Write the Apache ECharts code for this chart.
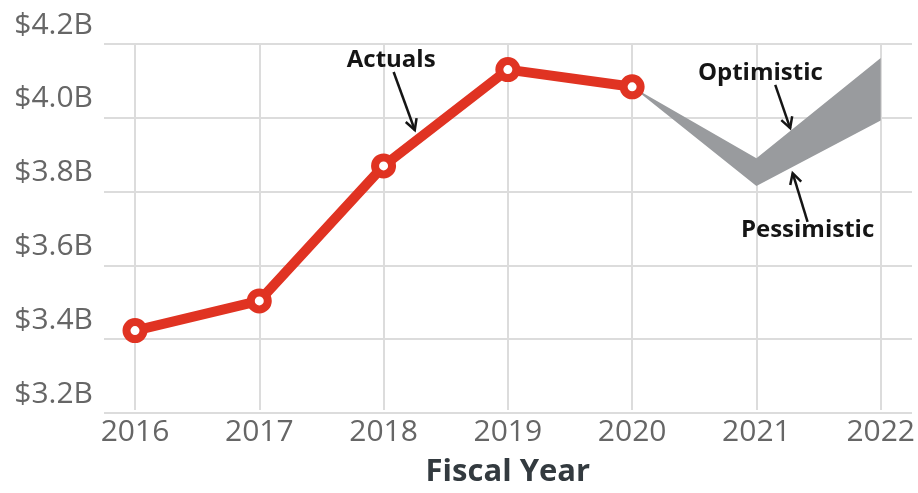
<!DOCTYPE html>
<html>
<head>
<meta charset="utf-8">
<script src="https://cdn.jsdelivr.net/npm/echarts@6/dist/echarts.min.js"></script>
<style>
  html, body { margin: 0; padding: 0; background: #fff; }
  #chart { width: 918px; height: 493px; }
</style>
</head>
<body>
<div id="chart"></div>
<script>
// data (billions of dollars)
var years = ['2016', '2017', '2018', '2019', '2020', '2021', '2022'];
var actuals = [3.417, 3.498, 3.867, 4.13, 4.083, null, null];
var optimistic = [null, null, null, null, 4.083, 3.888, 4.162];
var pessimistic = [null, null, null, null, 4.083, 3.812, 3.991];
var yMin = 3.2, yMax = 4.2, yStep = 0.2;

// annotation anchors in data space (year, value)
var notes = [
  { text: 'Actuals', at: [2018.06, 4.157], from: [2018.08, 4.124], to: [2018.25, 3.967] },
  { text: 'Optimistic', at: [2021.03, 4.121], from: [2021.15, 4.089], to: [2021.27, 3.972] },
  { text: 'Pessimistic', at: [2021.41, 3.696], from: [2021.41, 3.718], to: [2021.29, 3.850] }
];

var FONT = '"Open Sans", "Noto Sans", sans-serif';
var RED = '#e03322';
var GRIDC = '#dcdcdc';

// stacked band: pessimistic base + (optimistic - pessimistic)
var bandWidth = optimistic.map(function (v, i) {
  return v == null ? null : +(v - pessimistic[i]).toFixed(3);
});

var chart = echarts.init(document.getElementById('chart'));
chart.setOption({
  animation: false,
  grid: [
    { left: 104, right: 6, top: 44, bottom: 80 },  // wide grid: horizontal lines + y labels
    { left: 135, right: 37, top: 44, bottom: 80 }  // data grid
  ],
  xAxis: [
    { gridIndex: 0, type: 'value', min: 2015.75, max: 2022.25, show: false },
    {
      gridIndex: 1,
      type: 'category',
      data: years,
      boundaryGap: false,
      axisLine: { show: false },
      axisTick: { show: false },
      axisLabel: { color: '#666', fontSize: 30, fontFamily: FONT, margin: 7 },
      splitLine: { show: true, lineStyle: { color: GRIDC, width: 2 } },
      name: 'Fiscal Year',
      nameLocation: 'middle',
      nameGap: 47,
      nameTextStyle: { color: '#333a3f', fontSize: 31, fontWeight: 'bold', fontFamily: FONT }
    }
  ],
  yAxis: [
    {
      gridIndex: 0,
      type: 'value',
      min: yMin, max: yMax, interval: yStep,
      axisLine: { show: false },
      axisTick: { show: false },
      splitLine: { lineStyle: { color: GRIDC, width: 2 } },
      axisLabel: {
        color: '#666', fontSize: 30, fontFamily: FONT, margin: 11,
        verticalAlign: 'bottom', padding: [0, 0, 4, 0],
        formatter: function (v) { return '$' + v.toFixed(1) + 'B'; }
      }
    },
    { gridIndex: 1, type: 'value', min: yMin, max: yMax, show: false }
  ],
  series: [
    {
      name: 'Pessimistic', type: 'line', xAxisIndex: 1, yAxisIndex: 1,
      data: pessimistic, stack: 'band', symbol: 'none', silent: true,
      lineStyle: { width: 0 }
    },
    {
      name: 'Optimistic', type: 'line', xAxisIndex: 1, yAxisIndex: 1,
      data: bandWidth, stack: 'band', symbol: 'none', silent: true,
      lineStyle: { width: 0 },
      areaStyle: { color: '#999b9e', opacity: 1 }
    },
    {
      name: 'Actuals', type: 'line', xAxisIndex: 1, yAxisIndex: 1,
      data: actuals, z: 5,
      lineStyle: { color: RED, width: 10 },
      symbol: 'circle', symbolSize: 17, showAllSymbol: true,
      itemStyle: { color: '#fff', borderColor: RED, borderWidth: 8 }
    }
  ]
});

// annotation labels and arrows
var g = [];
notes.forEach(function (n) {
  var p = chart.convertToPixel({ gridIndex: 0 }, n.at);
  var a = chart.convertToPixel({ gridIndex: 0 }, n.from);
  var b = chart.convertToPixel({ gridIndex: 0 }, n.to);
  g.push({
    type: 'text', x: p[0], y: p[1], z: 10,
    style: { text: n.text, fontSize: 24, fontWeight: 'bold', fontFamily: FONT, fill: '#151515', align: 'center', verticalAlign: 'middle' }
  });
  g.push({
    type: 'line', z: 10,
    shape: { x1: a[0], y1: a[1], x2: b[0], y2: b[1] },
    style: { stroke: '#151515', lineWidth: 2.5 }
  });
  var ang = Math.atan2(b[1] - a[1], b[0] - a[0]);
  var L = 12, w = 0.5;
  g.push({
    type: 'polyline', z: 10,
    shape: { points: [
      [b[0] - L * Math.cos(ang - w), b[1] - L * Math.sin(ang - w)],
      [b[0], b[1]],
      [b[0] - L * Math.cos(ang + w), b[1] - L * Math.sin(ang + w)]
    ] },
    style: { stroke: '#151515', lineWidth: 2.5, fill: null }
  });
});
chart.setOption({ graphic: g });
</script>
</body>
</html>
